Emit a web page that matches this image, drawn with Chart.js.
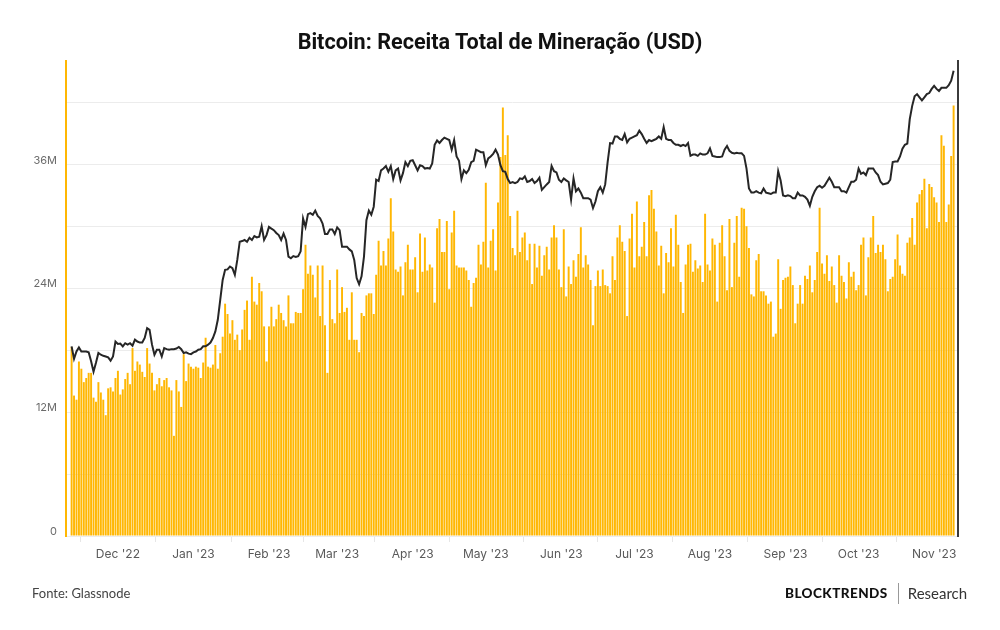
<!DOCTYPE html>
<html>
<head>
<meta charset="utf-8">
<script src="https://cdn.jsdelivr.net/npm/chart.js@4.4.0/dist/chart.umd.min.js"></script>
<style>
  html, body { margin: 0; padding: 0; background: #fff; }
  #wrap { position: relative; width: 1000px; height: 630px; overflow: hidden; }
  #chart { position: absolute; left: 0; top: 0; }
  #title { position: absolute; left: 0; top: 29px; width: 1000px; text-align: center;
           font: 700 21.6px Roboto, sans-serif; color: #111; }
  #source { position: absolute; left: 32px; top: 585px; font: 13px Lato, sans-serif; color: #444; }
  #brand { position: absolute; left: 785px; top: 582px; height: 22px; display: flex; align-items: center;
           font-family: Lato, sans-serif; color: #111; }
  #brand b { font-size: 13.5px; font-weight: 900; letter-spacing: 0.45px; }
  #brand .sep { width: 1px; height: 21px; background: #999; margin: 0 9px 0 10px; }
  #brand span { font-size: 15px; color: #333; }
</style>
</head>
<body>
<div id="wrap">
  <canvas id="chart" width="1000" height="630"></canvas>
  <div id="title">Bitcoin: Receita Total de Mineração (USD)</div>
  <div id="source">Fonte: Glassnode</div>
  <div id="brand"><b>BLOCKTRENDS</b><div class="sep"></div><span>Research</span></div>
</div>
<script>
// daily values, first day 12 Nov 2022
const startDate = new Date(Date.UTC(2022, 10, 12));

// total mining revenue, millions of USD
const revenueM = [
  18.3, 13.6, 13.2, 16.9, 16.2, 14.9, 15.3, 15.8, 15.8, 13.4,
  13.0, 14.9, 13.9, 13.2, 11.7, 14.3, 14.4, 14.0, 15.3, 16.0,
  13.7, 14.2, 15.2, 15.8, 14.7, 18.2, 16.0, 16.9, 16.6, 15.9,
  15.4, 18.2, 16.7, 15.8, 14.1, 14.7, 15.3, 14.5, 15.1, 15.3,
  14.4, 14.1, 9.7, 15.1, 14.0, 12.5, 17.6, 15.0, 16.7, 16.4,
  16.2, 16.4, 16.3, 15.3, 16.8, 19.2, 16.4, 16.3, 16.6, 18.5,
  16.2, 17.7, 19.3, 22.5, 21.5, 19.6, 20.9, 19.0, 19.5, 18.0,
  20.0, 21.9, 22.8, 19.0, 25.1, 22.7, 22.4, 24.5, 23.7, 20.3,
  16.9, 20.3, 22.2, 20.3, 21.0, 22.4, 21.6, 20.9, 20.3, 23.3,
  20.6, 20.6, 21.7, 21.6, 21.6, 23.9, 28.2, 25.4, 26.2, 25.3,
  23.1, 26.2, 21.3, 26.2, 20.4, 15.8, 24.8, 21.0, 20.6, 25.8,
  21.6, 24.1, 21.7, 22.1, 19.0, 23.6, 19.0, 19.0, 17.8, 21.6,
  21.3, 23.3, 23.5, 23.5, 21.5, 25.3, 28.6, 26.2, 27.6, 26.2,
  28.8, 32.7, 29.5, 25.8, 25.6, 26.1, 23.3, 26.5, 28.2, 25.8,
  25.8, 27.0, 23.6, 29.3, 25.6, 28.9, 25.7, 26.3, 26.0, 22.6,
  29.8, 30.7, 27.5, 27.5, 30.5, 23.9, 29.4, 31.5, 26.2, 26.0,
  26.0, 26.0, 25.7, 24.8, 22.2, 24.5, 25.0, 28.2, 26.3, 28.5,
  34.2, 26.0, 28.6, 29.7, 25.7, 32.3, 36.7, 41.5, 36.9, 38.8,
  31.0, 27.9, 27.2, 31.5, 27.5, 28.9, 29.4, 26.7, 28.3, 24.4,
  28.3, 26.0, 28.1, 25.2, 27.2, 28.0, 25.8, 28.9, 30.1, 28.9,
  25.8, 24.1, 29.7, 23.2, 26.1, 24.4, 26.7, 25.1, 27.3, 29.9,
  26.0, 27.2, 26.3, 24.8, 20.4, 24.2, 25.7, 24.2, 25.8, 24.3,
  24.2, 23.5, 27.1, 24.8, 28.9, 30.1, 28.5, 27.6, 21.3, 28.8,
  31.2, 26.0, 32.4, 27.1, 28.0, 30.4, 27.1, 33.0, 33.5, 31.7,
  29.5, 26.2, 28.1, 23.5, 27.4, 26.5, 29.8, 26.1, 31.1, 28.2,
  24.6, 21.6, 26.3, 28.2, 28.3, 25.6, 26.7, 25.9, 26.2, 24.6,
  31.2, 26.3, 25.7, 28.8, 28.2, 22.7, 28.4, 30.1, 27.1, 23.8,
  30.7, 24.1, 28.4, 31.0, 25.1, 31.8, 31.7, 30.0, 27.9, 23.4,
  23.2, 26.7, 27.3, 23.7, 23.7, 23.3, 22.5, 22.7, 19.3, 19.6,
  26.8, 22.0, 24.8, 25.0, 25.1, 26.1, 24.3, 20.6, 22.5, 24.3,
  22.5, 25.2, 24.9, 26.2, 23.6, 24.8, 27.5, 31.8, 26.4, 25.4,
  27.2, 24.7, 26.1, 24.3, 22.6, 27.2, 25.2, 24.6, 23.0, 26.5,
  25.1, 25.6, 23.8, 24.3, 28.2, 28.9, 23.3, 27.0, 28.9, 31.0,
  27.4, 28.2, 27.5, 28.2, 26.8, 23.7, 24.9, 25.1, 26.8, 29.2,
  26.2, 25.4, 25.2, 28.4, 28.9, 30.8, 28.2, 32.3, 33.1, 33.5,
  34.6, 29.8, 34.1, 33.8, 32.8, 32.3, 30.4, 38.8, 37.8, 30.4,
  32.1, 36.8, 41.7
];

// BTC price, thousands of USD (hidden log axis)
const priceK = [
  16.95, 16.37, 16.71, 16.9, 16.71, 16.71, 16.71, 16.67, 16.26, 15.8,
  16.19, 16.64, 16.56, 16.51, 16.48, 16.44, 16.29, 16.48, 17.18, 17.06,
  17.08, 16.95, 17.1, 17.03, 17.1, 16.98, 17.27, 17.18, 17.13, 17.13,
  17.35, 17.83, 17.75, 17.03, 16.56, 16.79, 16.79, 16.48, 16.87, 16.82,
  16.79, 16.82, 16.82, 16.85, 16.92, 16.82, 16.64, 16.67, 16.61, 16.59,
  16.67, 16.71, 16.79, 16.82, 16.95, 16.95, 17.03, 17.13, 17.35, 17.67,
  18.25, 19.29, 20.39, 20.97, 21.0, 21.17, 21.07, 20.68, 21.56, 22.68,
  22.72, 22.79, 22.68, 22.93, 22.79, 23.04, 22.95, 23.0, 23.68, 22.79,
  23.1, 23.63, 23.52, 23.42, 23.24, 23.1, 22.79, 23.2, 22.79, 21.76,
  21.66, 21.79, 21.74, 21.79, 22.08, 24.2, 23.63, 24.49, 24.56, 24.44,
  24.73, 24.36, 24.2, 23.86, 23.17, 23.17, 23.47, 23.47, 23.17, 23.6,
  23.42, 22.37, 22.37, 22.37, 22.2, 22.08, 21.56, 20.5, 20.15, 20.6,
  21.76, 24.08, 24.73, 24.44, 25.0, 26.95, 26.85, 27.66, 27.8, 27.99,
  27.55, 27.99, 27.0, 27.66, 27.8, 26.9, 27.45, 28.3, 27.99, 28.4,
  28.45, 28.06, 27.66, 28.06, 27.99, 27.8, 27.85, 27.8, 28.2, 29.7,
  30.06, 29.85, 30.1, 30.3, 30.2, 30.1, 29.3, 30.1, 28.75, 28.4,
  27.0, 27.66, 27.45, 27.7, 28.3, 28.4, 29.3, 29.2, 29.1, 29.1,
  28.06, 28.6, 28.75, 28.95, 29.3, 28.9, 28.06, 27.6, 27.55, 27.0,
  26.7, 26.78, 26.7, 26.78, 27.05, 27.0, 27.2, 26.78, 26.85, 27.0,
  26.7, 26.85, 27.1, 26.2, 26.4, 26.6, 26.78, 28.0, 27.6, 27.5,
  26.95, 26.78, 27.05, 26.9, 26.78, 25.5, 27.05, 26.1, 26.3, 26.0,
  25.6, 25.6, 25.6, 25.5, 24.9, 25.36, 26.1, 26.4, 26.0, 26.6,
  28.3, 29.84, 29.8, 30.4, 30.4, 30.2, 30.1, 30.6, 29.9, 30.2,
  30.3, 30.4, 30.5, 30.9, 30.6, 30.2, 29.85, 30.1, 30.0, 30.1,
  30.2, 30.4, 30.2, 31.2, 30.2, 30.1, 30.1, 29.85, 29.7, 29.7,
  29.6, 29.7, 29.6, 29.85, 28.8, 28.9, 28.9, 28.8, 29.0, 28.9,
  28.9, 29.0, 29.4, 28.8, 28.75, 28.7, 28.7, 28.75, 29.3, 29.6,
  29.2, 29.05, 29.0, 29.05, 29.0, 29.0, 28.8, 27.8, 26.3, 26.0,
  26.0, 26.1, 26.0, 25.95, 26.3, 26.0, 25.95, 25.9, 26.0, 26.0,
  27.6, 26.9, 25.8, 25.75, 25.8, 25.75, 25.6, 25.6, 26.0, 25.8,
  25.8, 25.7, 25.5, 25.06, 25.7, 26.1, 26.4, 26.5, 26.35, 26.5,
  26.8, 27.1, 26.8, 26.4, 26.4, 26.4, 26.1, 26.1, 26.0, 26.4,
  26.8, 26.8, 26.95, 27.8, 27.4, 27.5, 27.3, 27.8, 27.8, 27.8,
  27.5, 27.3, 26.8, 26.6, 26.65, 26.7, 26.95, 28.3, 28.35, 28.35,
  28.75, 29.38, 29.7, 29.8, 31.9, 33.1, 34.0, 34.2, 33.9, 33.6,
  33.9, 34.2, 34.3, 34.7, 35.0, 34.7, 34.5, 34.8, 34.8, 34.8,
  35.05, 35.5, 36.5
];

// left axis: grid every 6M, label every 12M
const yGridM = [0, 6, 12, 18, 24, 30, 36, 42];
const yLabelM = [0, 12, 24, 36];

const monthNames = ['Jan', 'Feb', 'Mar', 'Apr', 'May', 'Jun', 'Jul', 'Aug', 'Sep', 'Oct', 'Nov', 'Dec'];

// x ticks on the first day of each month
const monthTicks = [];
for (let i = 0; i < revenueM.length; i++) {
  const d = new Date(startDate.getTime() + i * 864e5);
  if (d.getUTCDate() === 1) {
    monthTicks.push({ value: i, label: monthNames[d.getUTCMonth()] + " '" + String(d.getUTCFullYear()).slice(2) });
  }
}

const barPoints = revenueM.map((v, i) => ({ x: i, y: v * 1e6 }));
const linePoints = priceK.map((v, i) => ({ x: i, y: v * 1000 }));

const gold = '#FFB703';

new Chart(document.getElementById('chart'), {
  type: 'bar',
  data: {
    datasets: [
      {
        type: 'line',
        data: linePoints,
        yAxisID: 'y1',
        borderColor: '#262626',
        borderWidth: 2,
        pointRadius: 0,
        tension: 0,
        order: 1
      },
      {
        type: 'bar',
        data: barPoints,
        yAxisID: 'y',
        backgroundColor: gold,
        barPercentage: 0.8,
        categoryPercentage: 1,
        order: 2
      }
    ]
  },
  options: {
    responsive: false,
    animation: false,
    layout: { padding: { left: 0, right: 40, top: 61, bottom: 64 } },
    plugins: { legend: { display: false }, tooltip: { enabled: false } },
    scales: {
      x: {
        type: 'linear',
        min: -2.3,
        max: 363.8,
        offset: false,
        afterBuildTicks: s => { s.ticks = monthTicks.map(t => ({ value: t.value })); },
        afterFit: s => { s.height = 30; },
        ticks: {
          autoSkip: false,
          maxRotation: 0,
          padding: 5,
          color: '#5a5a5a',
          font: { family: 'Inter', size: 12 },
          callback: v => { const t = monthTicks.find(m => m.value === v); return t ? t.label : ''; }
        },
        grid: { drawOnChartArea: false, tickLength: 6, color: '#e6e6e6' },
        border: { display: false }
      },
      y: {
        position: 'left',
        min: 0,
        max: 46e6,
        afterBuildTicks: s => { s.ticks = yGridM.map(v => ({ value: v * 1e6 })); },
        afterFit: s => { s.width = 66; },
        ticks: {
          autoSkip: false,
          padding: 9,
          labelOffset: -4,
          color: '#6b6b6b',
          font: { family: 'Inter', size: 11 },
          callback: v => {
            const m = Math.round(v / 1e6);
            if (!yLabelM.includes(m)) return '';
            return m === 0 ? '0' : m + 'M';
          }
        },
        grid: { color: '#ececec', drawTicks: false },
        border: { display: true, color: gold, width: 2 }
      },
      y1: {
        type: 'logarithmic',
        position: 'right',
        min: 10000,
        max: 37500,
        bounds: 'data',
        afterFit: s => { s.width = 2; },
        ticks: { display: false },
        grid: { drawOnChartArea: false, drawTicks: false },
        border: { display: true, color: '#3b3b3b', width: 2 }
      }
    }
  }
});
</script>
</body>
</html>
